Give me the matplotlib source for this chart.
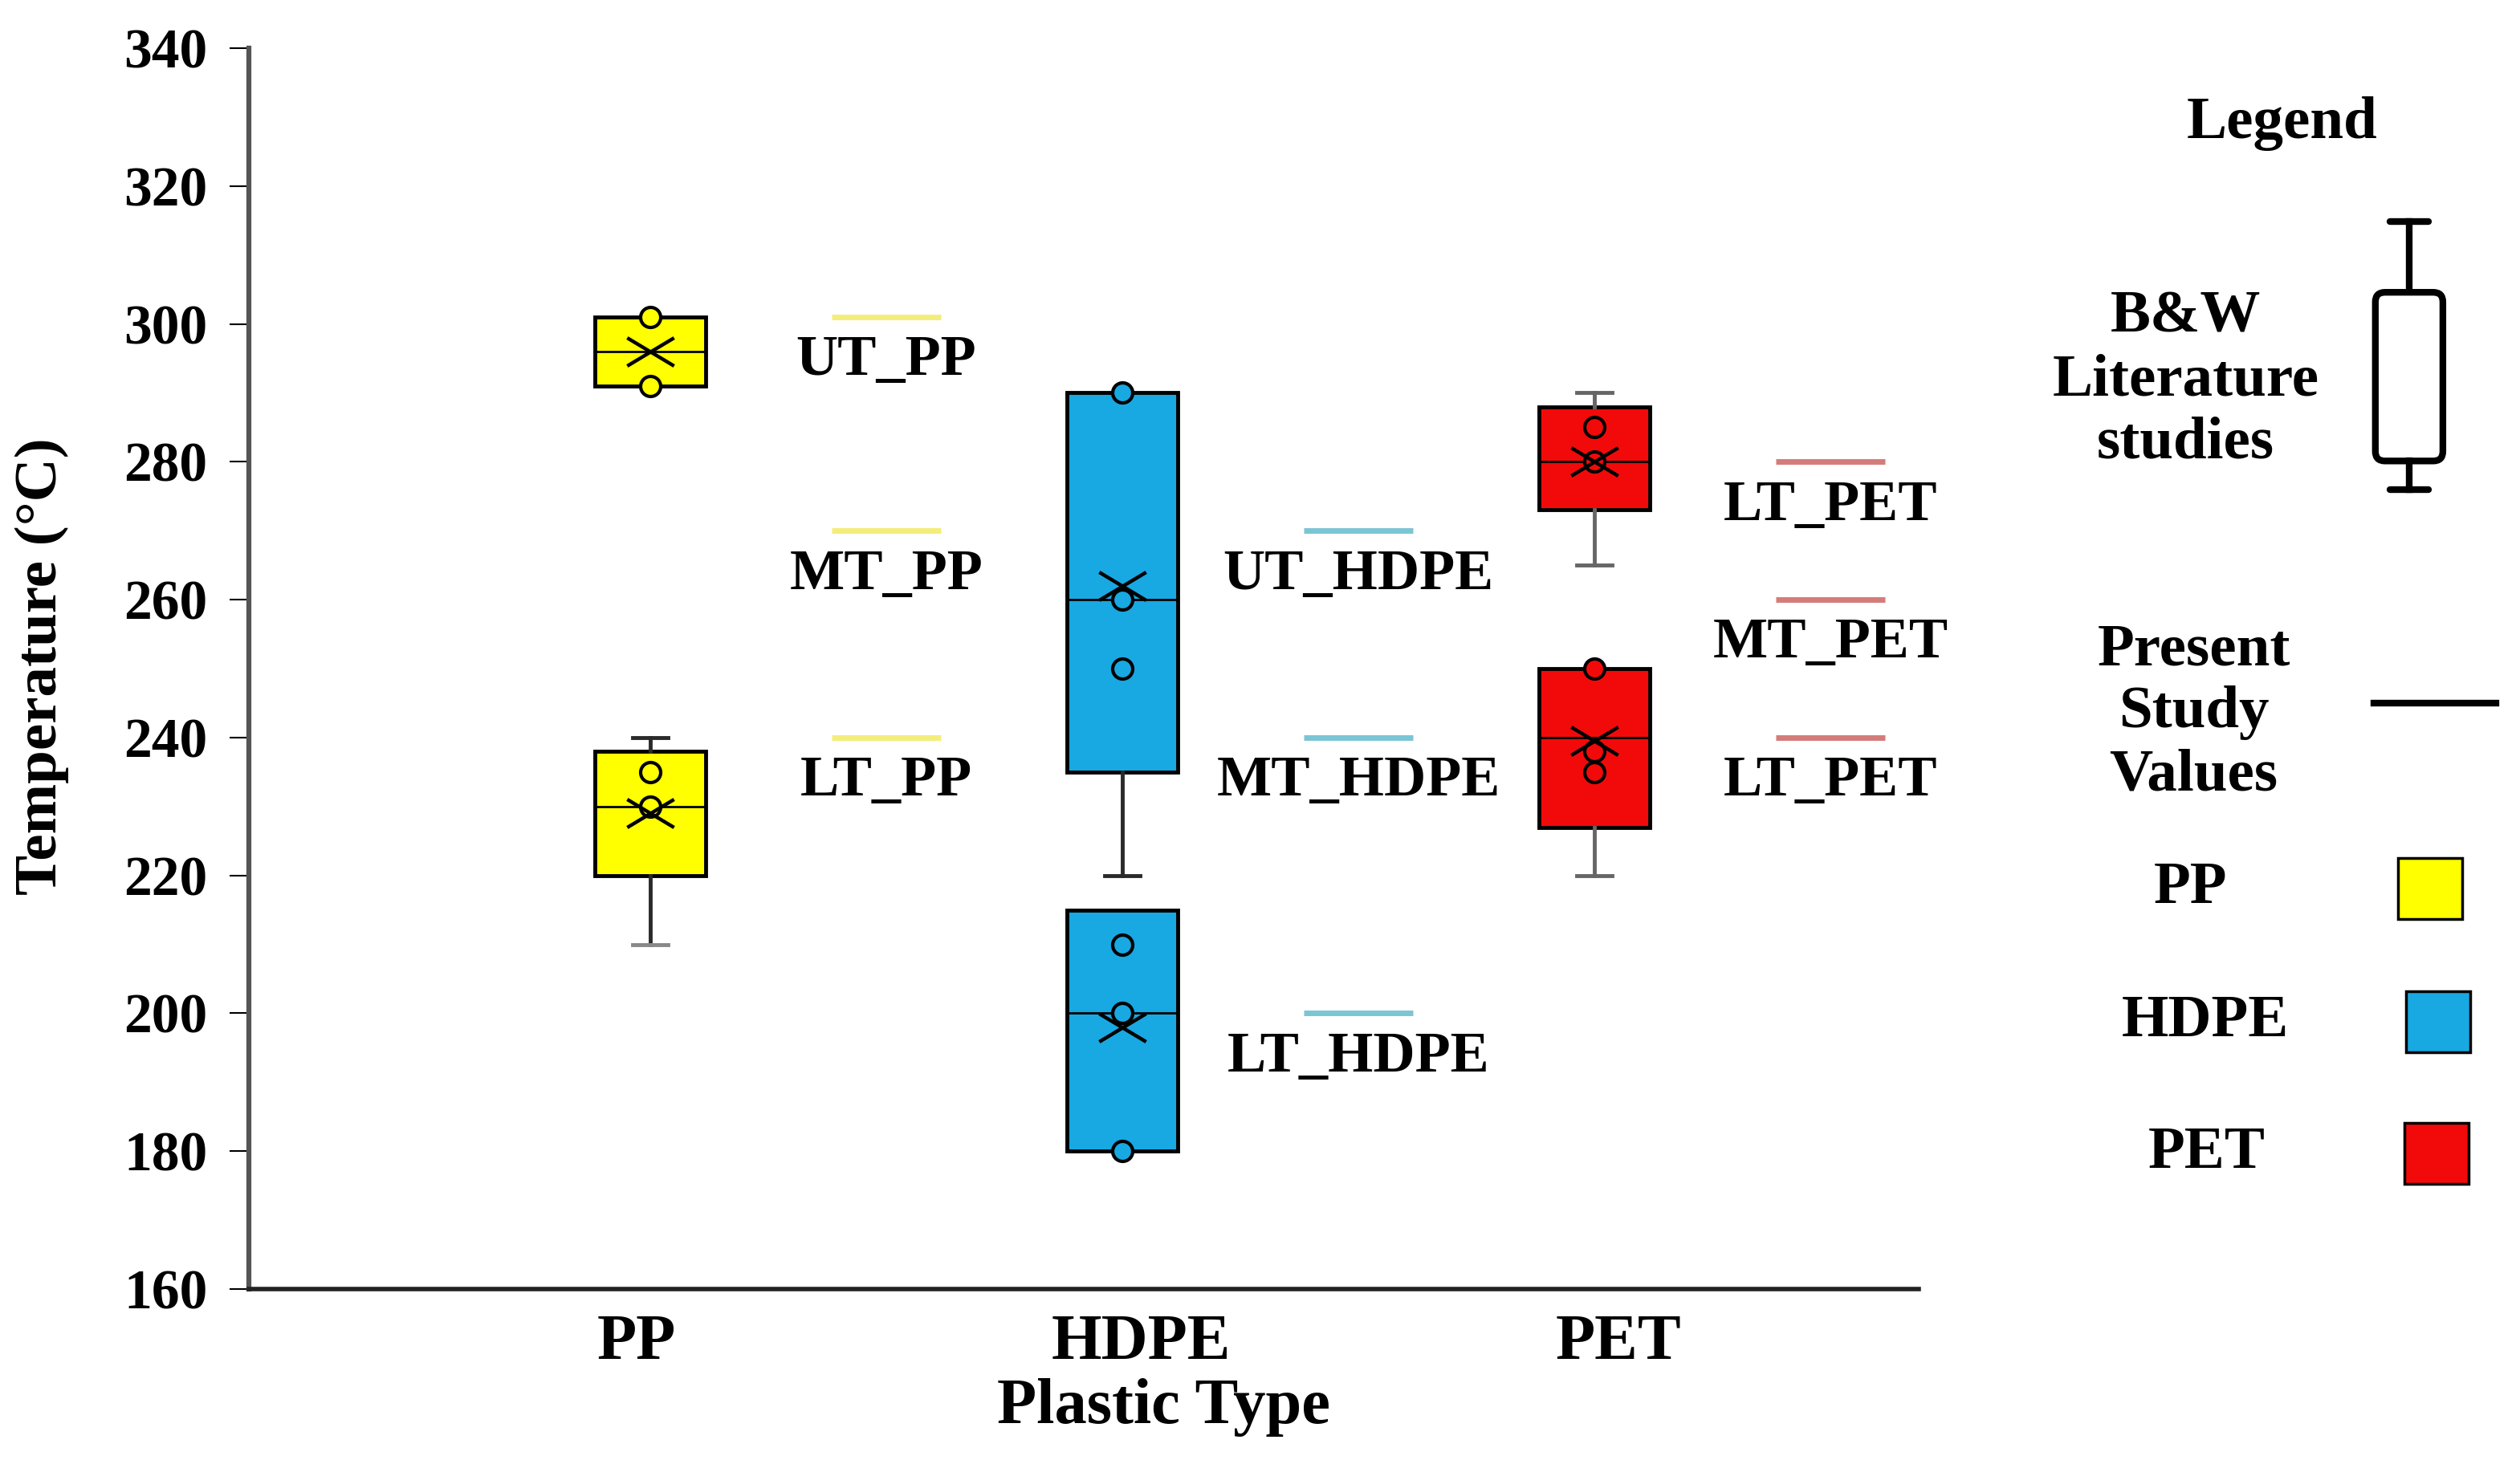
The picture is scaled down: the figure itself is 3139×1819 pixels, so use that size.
import numpy as np
import matplotlib
matplotlib.use("Agg")
import matplotlib.pyplot as plt
from matplotlib.path import Path
from matplotlib.patches import FancyBboxPatch, Rectangle

plt.rcParams['font.family'] = ['Liberation Serif', 'DejaVu Serif']
plt.rcParams['font.weight'] = 'bold'

# ---- data ----
plastics = ["PP", "HDPE", "PET"]
plastic_colors = ["#FFFF00", "#18A8E2", "#F20A0A"]
ref_colors = ["#F3EE7A", "#7CC5D5", "#D47C7A"]

# present study values, two boxes per plastic
box_plastic = [0, 0, 1, 1, 2, 2]
box_q1 = [291, 220, 235, 180, 273, 227]
box_med = [296, 230, 260, 200, 280, 240]
box_q3 = [301, 238, 290, 215, 288, 250]
box_low = [291, 210, 220, 180, 265, 220]
box_high = [301, 240, 290, 215, 290, 250]
box_mean = [296, 229, 262, 198, 280, 239.5]
box_points = [[291, 301], [230, 235], [250, 260, 290],
              [180, 200, 210], [280, 285], [235, 238, 250]]

# B&W literature values
ref_plastic = [0, 0, 0, 1, 1, 1, 2, 2, 2]
ref_value = [301, 270, 240, 270, 240, 200, 280, 260, 240]
ref_label = ["UT_PP", "MT_PP", "LT_PP", "UT_HDPE", "MT_HDPE", "LT_HDPE",
             "LT_PET", "MT_PET", "LT_PET"]

yticks = np.arange(160, 341, 20)

# flattened X marker for the means
xmark = Path([(-1, -0.6), (1, 0.6), (-1, 0.6), (1, -0.6)],
             [Path.MOVETO, Path.LINETO, Path.MOVETO, Path.LINETO])

fig = plt.figure(figsize=(31.39, 18.19), dpi=100)
ax = fig.add_axes([0.0988, 0.1171, 0.6626, 0.8499])

positions = [p + 1 for p in box_plastic]
stats = []
for i in range(len(box_q1)):
    stats.append(dict(q1=box_q1[i], med=box_med[i], q3=box_q3[i],
                      whislo=box_low[i], whishi=box_high[i],
                      mean=box_mean[i], fliers=[]))

bp = ax.bxp(stats, positions=positions, widths=0.235, patch_artist=True,
            showmeans=True, showfliers=False, capwidths=0.075,
            boxprops=dict(linewidth=3.5, edgecolor='black'),
            medianprops=dict(color='black', linewidth=2),
            whiskerprops=dict(color='#2a2a2a', linewidth=3.5),
            capprops=dict(color='#2a2a2a', linewidth=3.5),
            meanprops=dict(marker=xmark, markersize=42, markeredgecolor='black',
                           markeredgewidth=3.2, markerfacecolor='none', zorder=5))

for i, patch in enumerate(bp['boxes']):
    patch.set_facecolor(plastic_colors[box_plastic[i]])
    if box_low[i] == box_q1[i]:
        bp['whiskers'][2 * i].set_visible(False)
        bp['caps'][2 * i].set_visible(False)
    if box_high[i] == box_q3[i]:
        bp['whiskers'][2 * i + 1].set_visible(False)
        bp['caps'][2 * i + 1].set_visible(False)
    if box_plastic[i] == 2:
        for k in (2 * i, 2 * i + 1):
            bp['whiskers'][k].set_color('#666666')
            bp['caps'][k].set_color('#666666')
bp['caps'][2].set_color('#888888')

for i, pts in enumerate(box_points):
    ax.plot([positions[i]] * len(pts), pts, 'o', ms=18,
            mfc=plastic_colors[box_plastic[i]], mec='black', mew=3, zorder=4)

# literature reference lines
for p, v, lab in zip(ref_plastic, ref_value, ref_label):
    xc = p + 1.5
    ax.hlines(v, xc - 0.115, xc + 0.115, color=ref_colors[p], linewidth=5)
    ax.text(xc, v - 2.6, lab, ha='center', va='top', fontsize=52,
            fontweight='bold')

ax.set_xlim(0.15, 3.687)
ax.set_ylim(160, 340)
ax.set_yticks(yticks)
ax.set_xticks([0.97, 2.04, 3.05])
ax.set_xticklabels(plastics)
ax.tick_params(axis='y', labelsize=50, length=17, width=1.5, pad=20)
ax.tick_params(axis='x', labelsize=58, length=0, pad=22)

ax.spines['top'].set_visible(False)
ax.spines['right'].set_visible(False)
ax.spines['left'].set_color('#555555')
ax.spines['left'].set_linewidth(4.5)
ax.spines['bottom'].set_color('#222222')
ax.spines['bottom'].set_linewidth(4)

ax.set_ylabel('Temperature (°C)', fontsize=54, fontweight='bold')
ax.yaxis.set_label_coords(-0.124, 0.502)
ax.yaxis.label.set_va('center')
ax.set_xlabel('Plastic Type', fontsize=58, fontweight='bold')
ax.xaxis.set_label_coords(0.548, -0.0957)
ax.xaxis.label.set_va('center')

# ---- legend drawn on an overlay (coords in half-size pixels) ----
lax = fig.add_axes([0, 0, 1, 1])
lax.set_xlim(0, 1568)
lax.set_ylim(909, 0)
lax.axis('off')

lax.text(1420, 77, 'Legend', ha='center', va='center', fontsize=54)
lax.text(1360, 237, 'B&W\nLiterature\nstudies', ha='center', va='center',
         fontsize=54, linespacing=1.2)
lax.text(1365, 444, 'Present\nStudy\nValues', ha='center', va='center',
         fontsize=54, linespacing=1.2)

# box icon
lw = 6
lax.plot([1499, 1499], [138, 181], color='black', lw=lw)
lax.plot([1487, 1511], [138, 138], color='black', lw=lw, solid_capstyle='round')
lax.plot([1499, 1499], [287, 305], color='black', lw=lw)
lax.plot([1487, 1511], [305, 305], color='black', lw=lw, solid_capstyle='round')
lax.add_patch(FancyBboxPatch((1478, 182), 42, 105,
                             boxstyle="round,pad=0,rounding_size=6",
                             fc='white', ec='black', lw=lw))

lax.plot([1477, 1553], [438, 438], color='black', lw=6)

leg_y = [553, 636, 718]
leg_x = [1363, 1372, 1373]
sq_x = [1492, 1497, 1496]
for name, col, ty, tx, sx in zip(plastics, plastic_colors, leg_y, leg_x, sq_x):
    lax.text(tx, ty, name, ha='center', va='center', fontsize=54)
    lax.add_patch(Rectangle((sx, ty - 19), 40, 38, fc=col, ec='black', lw=2.5))

fig.savefig('out.png', dpi=100)
